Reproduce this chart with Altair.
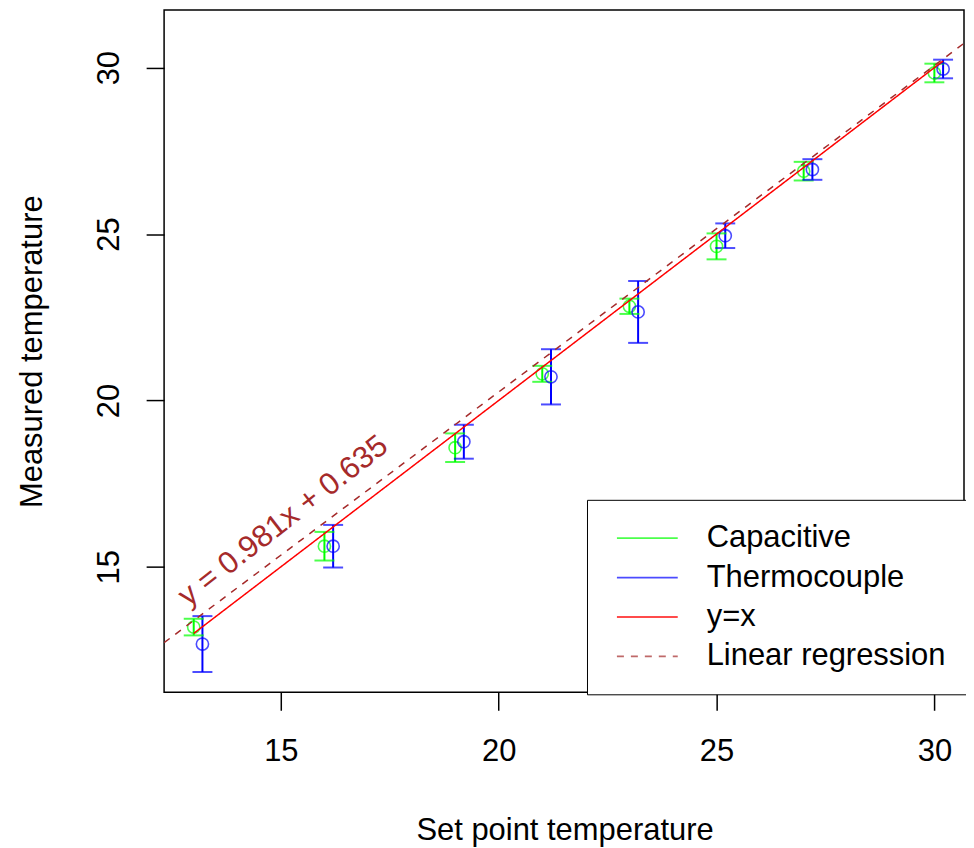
import altair as alt
import pandas as pd

# ---- data ----
set_points = [13, 16, 19, 21, 23, 25, 27, 30]
cap_mean = [13.19, 15.62, 18.58, 20.80, 22.83, 24.63, 26.89, 29.84]
cap_err = [0.25, 0.43, 0.43, 0.24, 0.23, 0.39, 0.28, 0.28]
thermo_x = [13.2, 16.2, 19.2, 21.2, 23.2, 25.2, 27.2, 30.2]
thermo_mean = [12.68, 15.62, 18.76, 20.71, 22.66, 24.95, 26.94, 29.96]
thermo_err = [0.84, 0.64, 0.51, 0.83, 0.93, 0.37, 0.31, 0.28]

identity_x = [13.0, 30.2]
reg_slope = 0.981
reg_intercept = 0.635
reg_x = [12.32, 30.68]

series_names = ["Capacitive", "Thermocouple", "y=x", "Linear regression"]
series_colors = ["#00FF00", "#0000FF", "#FF0000", "#A52A2A"]
series_dashes = [[1, 0], [1, 0], [1, 0], [7, 7]]

x_ticks = [15, 20, 25, 30]
y_ticks = [15, 20, 25, 30]
x_domain = [12.32, 30.68]
y_domain = [11.23, 31.73]

eq_label = "y = 0.981x + 0.635"
eq_pos = (15.06, 16.37)

FONT = "Liberation Sans"

# ---- tables ----
pts = pd.DataFrame(
    [{"series": "Capacitive", "x": x, "y": m, "lo": m - e, "hi": m + e}
     for x, m, e in zip(set_points, cap_mean, cap_err)]
    + [{"series": "Thermocouple", "x": x, "y": m, "lo": m - e, "hi": m + e}
       for x, m, e in zip(thermo_x, thermo_mean, thermo_err)]
)
caps = pd.concat([
    pts[["series", "x", "lo"]].rename(columns={"lo": "v"}),
    pts[["series", "x", "hi"]].rename(columns={"hi": "v"}),
])
lines = pd.DataFrame(
    [{"series": "y=x", "x": v, "y": v} for v in identity_x]
    + [{"series": "Linear regression", "x": v, "y": reg_slope * v + reg_intercept} for v in reg_x]
)
eq = pd.DataFrame([{"x": eq_pos[0], "y": eq_pos[1], "label": eq_label}])

xs = alt.Scale(domain=x_domain, nice=False, zero=False)
ys = alt.Scale(domain=y_domain, nice=False, zero=False)

legend = alt.Legend(
    title=None, orient="none", legendX=424, legendY=491,
    symbolType="M-3,0H3", symbolSize=413, symbolStrokeWidth=1.8,
    labelFont=FONT, labelFontSize=31, labelColor="black", labelOffset=44,
    labelLimit=500, padding=23, rowPadding=7.5, symbolOffset=22,
    strokeColor="black", fillColor="white",
)
color = alt.Color("series:N", scale=alt.Scale(domain=series_names, range=series_colors), legend=legend)
dash = alt.StrokeDash("series:N", scale=alt.Scale(domain=series_names, range=series_dashes), legend=legend)

X = alt.X("x:Q", scale=xs, axis=alt.Axis(values=x_ticks, title="Set point temperature",
                                          labelPadding=26, titleX=401.5, titleY=148,
                                          titleBaseline="alphabetic", titleAlign="center"))
Y = alt.Y("y:Q", scale=ys, axis=alt.Axis(values=y_ticks, title="Measured temperature",
                                          labelAngle=270, labelAlign="center", labelBaseline="alphabetic",
                                          labelPadding=28, titleAngle=270, titleX=-122.5, titleY=342,
                                          titleBaseline="alphabetic", titleAlign="center"))

bars = alt.Chart(pts).mark_rule(strokeWidth=2).encode(
    x=X, y=alt.Y("lo:Q", scale=ys), y2="hi:Q", color=color)
cap_marks = alt.Chart(caps).mark_tick(orient="horizontal", size=20, thickness=2).encode(
    x="x:Q", y=alt.Y("v:Q", scale=ys), color=color)
circles = alt.Chart(pts).mark_point(shape="circle", filled=False, size=150, strokeWidth=1.6).encode(
    x="x:Q", y=Y, color=color)
line_marks = alt.Chart(lines).mark_line(strokeWidth=1.5, clip=True).encode(
    x="x:Q", y="y:Q", color=color, strokeDash=dash, detail="series:N")
text = alt.Chart(eq).mark_text(angle=322, fontSize=31, font=FONT, color="#A52A2A",
                               align="center", baseline="middle").encode(
    x="x:Q", y="y:Q", text="label:N")

chart = alt.layer(bars, cap_marks, circles, line_marks, text).properties(
    width=802, height=684,
    autosize=alt.AutoSizeParams(type="none"),
    padding={"left": 156.5, "top": 1, "right": 2, "bottom": 156},
).configure_view(
    stroke="black", strokeWidth=1.5
).configure_axis(
    grid=False, domain=False, tickColor="black", tickSize=18, tickWidth=1.5,
    labelFont=FONT, labelFontSize=31, labelColor="black",
    titleFont=FONT, titleFontSize=31, titleFontWeight="normal", titleColor="black",
)

chart.save("out.html", embed_options={"renderer": "svg", "actions": False})
